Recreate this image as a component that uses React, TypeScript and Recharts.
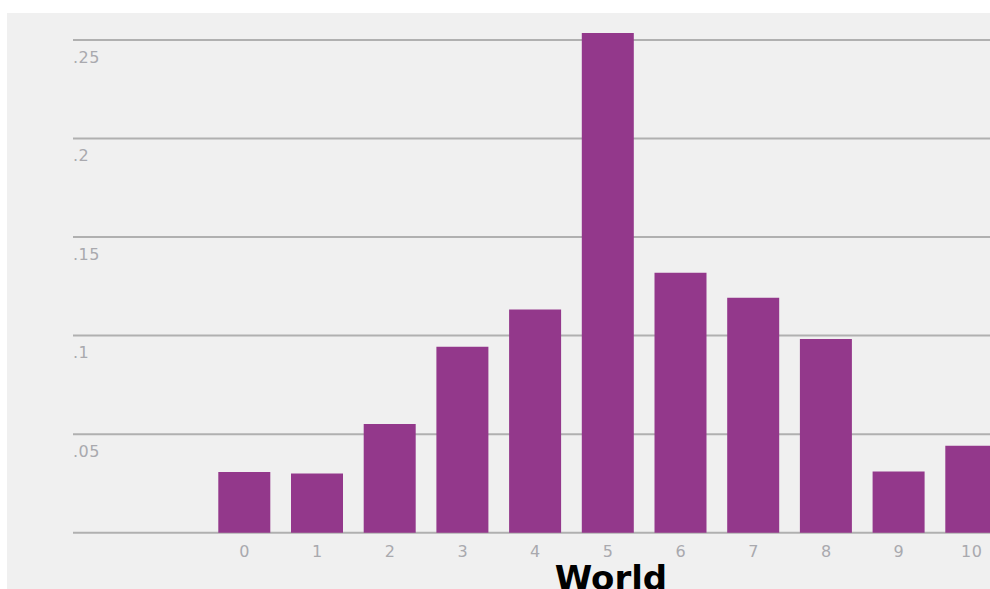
import React from 'react';
import { BarChart, Bar, XAxis, YAxis, CartesianGrid } from 'recharts';

const categories = ['0', '1', '2', '3', '4', '5', '6', '7', '8', '9', '10'];
const shares = [0.0308, 0.0301, 0.0552, 0.0944, 0.1132, 0.2535, 0.1319, 0.1192, 0.0983, 0.031, 0.0441];
const yTicks = [0, 0.05, 0.1, 0.15, 0.2, 0.25];
const yTickLabels = ['', '.05', '.1', '.15', '.2', '.25'];
const title = 'World';

const data = categories.map((c, i) => ({ name: c, value: shares[i] }));

const TICK_COLOR = '#a9a9ae';
const TICK_FONT = '"DejaVu Sans", sans-serif';

const YTick = (props: any) => {
  const { x, y, payload } = props;
  const idx = yTicks.indexOf(payload.value);
  const label = idx >= 0 ? yTickLabels[idx] : '';
  return (
    <text x={x} y={y} dy={22.5} textAnchor="start" fill={TICK_COLOR} fontSize={16} letterSpacing={0.5} fontFamily={TICK_FONT}>
      {label}
    </text>
  );
};

const XTick = (props: any) => {
  const { x, y, payload } = props;
  return (
    <text x={x} y={y} dy={24} textAnchor="middle" fill={TICK_COLOR} fontSize={16} letterSpacing={0.5} fontFamily={TICK_FONT}>
      {payload.value}
    </text>
  );
};

export default function App() {
  return (
    <div
      style={{
        position: 'absolute',
        left: 7,
        top: 13,
        width: 983,
        height: 576,
        overflow: 'hidden',
        background: '#f0f0f0',
      }}
    >
      <BarChart
        width={1001}
        height={576}
        data={data}
        margin={{ top: 7.3, right: 0, bottom: 0, left: 0 }}
      >
        <CartesianGrid
          horizontal
          vertical={false}
          horizontalValues={yTicks}
          stroke="#b0b0b0"
          strokeWidth={2}
        />
        <XAxis
          dataKey="name"
          height={56.3}
          axisLine={false}
          tickLine={false}
          tickSize={0}
          tickMargin={0}
          padding={{ left: 135.3, right: 0 }}
          interval={0}
          tick={<XTick />}
        />
        <YAxis
          width={66}
          domain={[0, 0.26]}
          ticks={yTicks}
          axisLine={false}
          tickLine={false}
          tickSize={0}
          tickMargin={0}
          tick={<YTick />}
        />
        <Bar dataKey="value" fill="#93388b" barSize={52} isAnimationActive={false} />
      </BarChart>
      <div
        style={{
          position: 'absolute',
          left: 604,
          top: 548,
          transform: 'translateX(-50%)',
          fontFamily: '"DejaVu Sans", sans-serif',
          fontWeight: 'bold',
          fontSize: 34,
          lineHeight: '34px',
          color: '#000',
          whiteSpace: 'nowrap',
        }}
      >
        {title}
      </div>
    </div>
  );
}
